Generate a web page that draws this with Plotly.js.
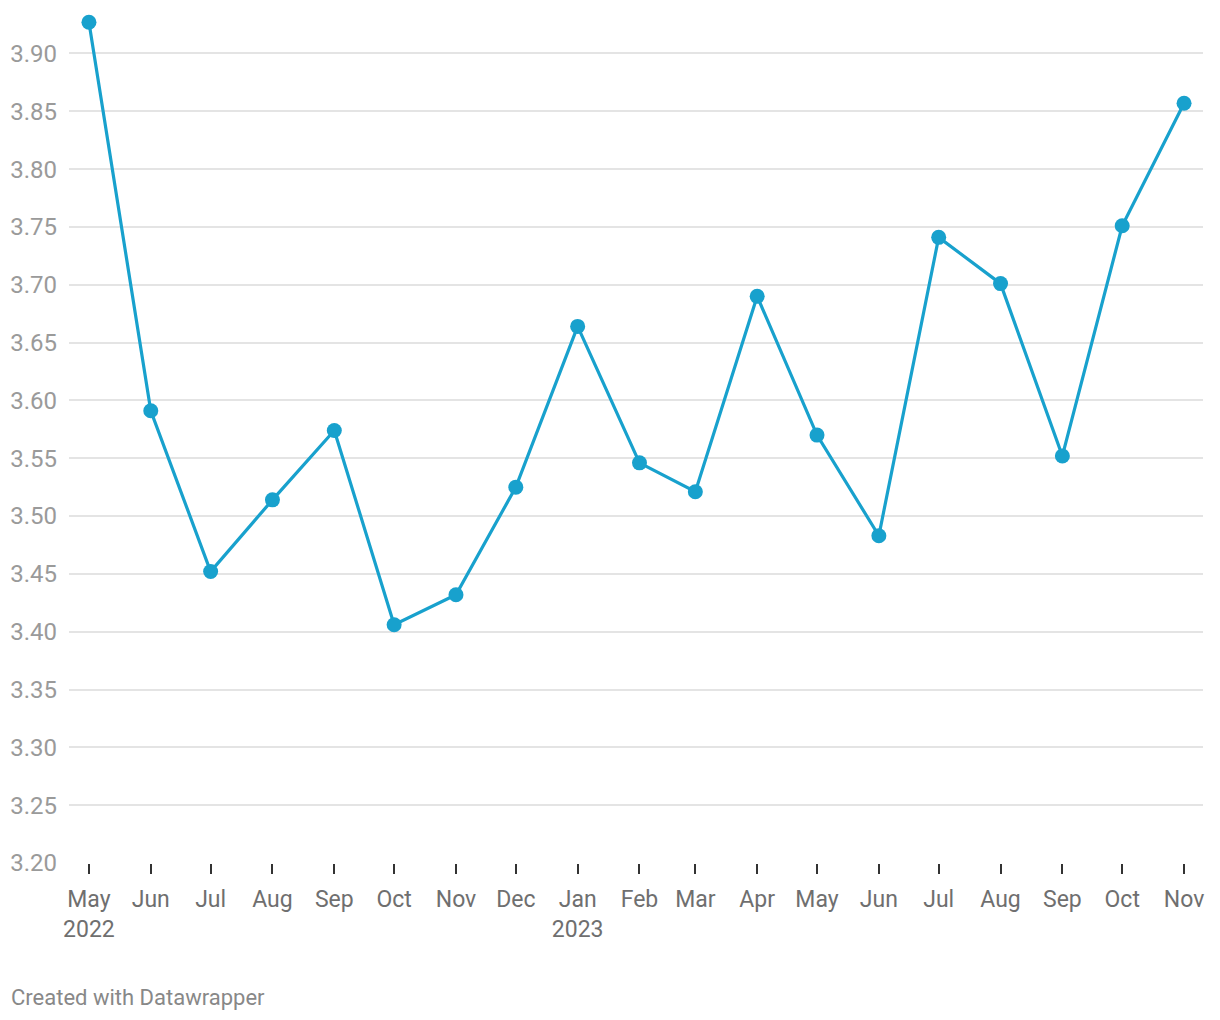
<!DOCTYPE html>
<html>
<head>
<meta charset="utf-8">
<script src="https://cdn.plot.ly/plotly-3.0.1.min.js"></script>
<style>
html,body{margin:0;padding:0;background:#fff;}
#chart{width:1220px;height:1020px;}
</style>
</head>
<body>
<div id="chart"></div>
<script>
const months = ["2022-05-01","2022-06-01","2022-07-01","2022-08-01","2022-09-01","2022-10-01","2022-11-01","2022-12-01","2023-01-01","2023-02-01","2023-03-01","2023-04-01","2023-05-01","2023-06-01","2023-07-01","2023-08-01","2023-09-01","2023-10-01","2023-11-01"];
const values = [3.927,3.591,3.452,3.514,3.574,3.406,3.432,3.525,3.664,3.546,3.521,3.690,3.570,3.483,3.741,3.701,3.552,3.751,3.857];
const tickLabels = ["May<br>2022","Jun","Jul","Aug","Sep","Oct","Nov","Dec","Jan<br>2023","Feb","Mar","Apr","May","Jun","Jul","Aug","Sep","Oct","Nov"];
const yTicks = [3.20,3.25,3.30,3.35,3.40,3.45,3.50,3.55,3.60,3.65,3.70,3.75,3.80,3.85,3.90];

const trace = {
  x: months, y: values, type: "scatter", mode: "lines+markers",
  line: {color: "#18a1cd", width: 3.2},
  marker: {color: "#18a1cd", size: 15},
  cliponaxis: false, hoverinfo: "skip"
};

const layout = {
  width: 1220, height: 1020,
  margin: {l: 69, r: 17, t: 13, b: 157},
  paper_bgcolor: "#fff", plot_bgcolor: "#fff",
  font: {family: "Roboto, sans-serif"},
  showlegend: false,
  xaxis: {
    type: "date",
    range: ["2022-04-21", "2023-11-10 12:00"],
    tickmode: "array", tickvals: months, ticktext: tickLabels,
    ticks: "outside", ticklen: 10, tickwidth: 2, tickcolor: "#333",
    showgrid: false, zeroline: false, showline: false,
    tickfont: {size: 23, color: "#6f6f6f"},
    ticklabelstandoff: 5
  },
  yaxis: {
    range: [3.2, 3.935],
    tickmode: "array", tickvals: yTicks, ticktext: yTicks.map(v => v.toFixed(2)),
    showgrid: true, gridcolor: "#e4e4e4", gridwidth: 2,
    zeroline: false, showline: false, ticks: "",
    tickfont: {size: 24, color: "#9a9a9a"},
    ticklabelstandoff: 11
  },
  annotations: [{
    text: "Created with Datawrapper", xref: "paper", yref: "paper",
    x: -60/1134, y: -(997-863)/850, xanchor: "left", yanchor: "middle",
    showarrow: false, font: {size: 22, color: "#888"}
  }]
};

Plotly.newPlot("chart", [trace], layout, {staticPlot: true, displayModeBar: false});
</script>
</body>
</html>
